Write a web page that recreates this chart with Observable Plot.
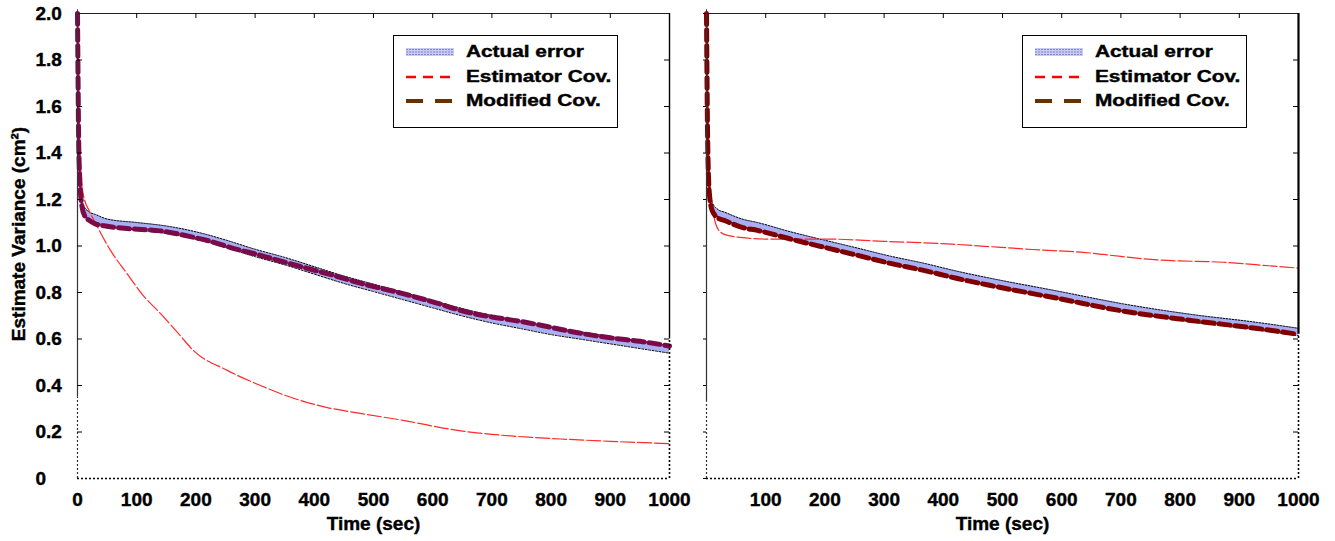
<!DOCTYPE html>
<html><head><meta charset="utf-8">
<script src="https://cdn.jsdelivr.net/npm/d3@7"></script>
<script src="https://cdn.jsdelivr.net/npm/@observablehq/plot@0.6"></script>
<style>
body{margin:0;background:#fff;width:1335px;height:541px;overflow:hidden;font-family:"Liberation Sans",Arial,sans-serif;}
#wrap{position:relative;width:1335px;height:541px;}
.panel{position:absolute;top:0;}
.panel text{font-weight:bold !important;font-size:19px !important;stroke:#000;stroke-width:0.4px;}
.legend{position:absolute;border:1.5px solid #000;background:#fff;box-sizing:border-box;width:225px;height:93px;}
.item{position:absolute;left:12px;height:20px;display:flex;align-items:center;}
.item svg{width:48px;height:12px;margin-right:12px;}
.item span{font-weight:bold;font-size:16px;display:inline-block;transform:scaleX(1.3);transform-origin:left center;white-space:nowrap;-webkit-text-stroke:0.4px #000;}
.ytitle{position:absolute;left:19px;top:234px;transform:translate(-50%,-50%) rotate(-90deg);font-weight:bold;font-size:19px;white-space:nowrap;-webkit-text-stroke:0.4px #000;}
</style></head><body><div id="wrap"></div>
<script>
// ---------- data ----------
const yTicks = [0, 0.2, 0.4, 0.6, 0.8, 1.0, 1.2, 1.4, 1.6, 1.8, 2.0];
const xTicksLeft = [0, 100, 200, 300, 400, 500, 600, 700, 800, 900, 1000];
const xTicksRight = [100, 200, 300, 400, 500, 600, 700, 800, 900, 1000];
const seriesNames = ["Actual error", "Estimator Cov.", "Modified Cov."];
const xTitle = "Time (sec)";
const yTitle = "Estimate Variance (cm²)";

// Left panel
const actualLeftT = [0, 2, 5, 10, 20, 30, 50, 100, 150, 200, 250, 300, 350, 400, 450, 500, 550, 600, 650, 700, 750, 800, 850, 900, 950, 1000];
const actualLeftV = [2.0, 1.5, 1.25, 1.16, 1.13, 1.12, 1.10, 1.085, 1.07, 1.045, 1.01, 0.97, 0.935, 0.895, 0.855, 0.82, 0.785, 0.75, 0.715, 0.685, 0.66, 0.635, 0.615, 0.595, 0.575, 0.555];
const modLeftT = [0, 1, 2, 4, 7, 12, 20, 30, 50, 84, 140, 200, 225, 260, 309, 350, 394, 430, 478, 550, 600, 659, 700, 750, 800, 838, 900, 950, 1000];
const modLeftV = [2.0, 1.7, 1.45, 1.28, 1.18, 1.13, 1.11, 1.095, 1.085, 1.075, 1.065, 1.035, 1.02, 0.992, 0.96, 0.93, 0.90, 0.875, 0.84, 0.795, 0.76, 0.715, 0.695, 0.675, 0.65, 0.63, 0.605, 0.59, 0.57];
const estLeftT = [0, 1, 3, 6, 10, 20, 30, 56, 84, 110, 140, 170, 196, 253, 309, 365, 422, 478, 550, 647, 700, 816, 900, 1000];
const estLeftV = [2.0, 1.75, 1.5, 1.30, 1.22, 1.15, 1.10, 0.98, 0.88, 0.79, 0.71, 0.625, 0.55, 0.465, 0.40, 0.345, 0.305, 0.28, 0.25, 0.205, 0.19, 0.17, 0.16, 0.15];

// Right panel
const actualRightT = [0, 2, 5, 10, 20, 30, 60, 86, 142, 198, 255, 311, 367, 424, 480, 593, 704, 818, 931, 1000];
const actualRightV = [2.0, 1.5, 1.25, 1.17, 1.14, 1.13, 1.10, 1.085, 1.045, 1.01, 0.975, 0.94, 0.91, 0.875, 0.845, 0.79, 0.735, 0.69, 0.655, 0.63];
const modRightT = [0, 2, 5, 10, 20, 30, 60, 86, 142, 198, 255, 311, 367, 424, 480, 593, 704, 818, 931, 1000];
const modRightV = [2.0, 1.45, 1.22, 1.15, 1.12, 1.11, 1.08, 1.067, 1.03, 0.995, 0.96, 0.925, 0.895, 0.86, 0.83, 0.775, 0.72, 0.68, 0.645, 0.62];
const estRightT = [0, 2, 5, 10, 15, 20, 30, 57, 100, 200, 300, 400, 492, 550, 648, 700, 762, 873, 950, 1000];
const estRightV = [2.0, 1.6, 1.3, 1.17, 1.10, 1.07, 1.05, 1.037, 1.03, 1.03, 1.02, 1.01, 0.995, 0.985, 0.97, 0.955, 0.94, 0.93, 0.915, 0.905];

const BAND = 0.016;
const zip = (t, v) => t.map((x, i) => ({t: x, v: v[i]}));

function panel({width, marginLeft, marginRight, actual, mod, est, modColor, xTicks, yLabels, leftSolidFrom, rightSolidFrom, rightWidth}) {
  const H = 541, mt = 13, mb = 63;
  const pw = width - marginLeft - marginRight;
  const ph = H - mt - mb;
  const marks = [
    Plot.areaY(actual, {x: "t", y1: d => d.v - BAND, y2: d => d.v + BAND, fill: "#a9aff2", curve: "monotone-x"}),
    Plot.lineY(actual, {x: "t", y: d => d.v + BAND, stroke: "#000", strokeWidth: 1, strokeDasharray: "1.5,1.5", curve: "monotone-x"}),
    Plot.lineY(actual, {x: "t", y: d => d.v - BAND, stroke: "#000", strokeWidth: 1, strokeDasharray: "2,1.5", curve: "monotone-x"}),
    Plot.lineY(est, {x: "t", y: "v", stroke: "#ff2a2a", strokeWidth: 1.2, strokeDasharray: "14,3", curve: "monotone-x"}),
    Plot.lineY(mod, {x: "t", y: "v", stroke: modColor, strokeWidth: 5, strokeDasharray: "11,5", curve: "monotone-x"}),
    // frame
    Plot.ruleY([2], {stroke: "#222", strokeWidth: 1.2}),
    Plot.ruleX([0], {y1: leftSolidFrom, y2: 2, stroke: "#333", strokeWidth: 1.2}),
    Plot.ruleX([0], {y1: 0, y2: leftSolidFrom, stroke: "#333", strokeWidth: 1.2, strokeDasharray: "2,2"}),
    Plot.ruleY([0], {stroke: "#000", strokeWidth: 1.6, strokeDasharray: "2,2"}),
    Plot.ruleX([1000], {y1: rightSolidFrom, y2: 2, stroke: "#000", strokeWidth: rightWidth}),
    Plot.ruleX([1000], {y1: 0, y2: rightSolidFrom, stroke: "#000", strokeWidth: 1.6, strokeDasharray: "2,2"}),
    // inward ticks
    Plot.tickX([100, 200, 300, 400, 500, 600, 700, 800, 900], {x: d => d, insetBottom: ph - 5, stroke: "#000"}),
    Plot.tickY(yTicks.slice(1, -1), {y: d => d, insetLeft: pw - 5, stroke: "#000"}),
    Plot.axisX({anchor: "bottom", ticks: xTicks, tickSize: 0, tickPadding: 14, label: null, tickFormat: d => String(d)}),
    Plot.text([xTitle], {frameAnchor: "bottom", dy: 45, fontSize: 19, fontWeight: "bold", lineAnchor: "middle"})
  ];
  if (yLabels) {
    marks.push(Plot.tickY(yTicks.slice(1, -1), {y: d => d, insetRight: pw - 5, stroke: "#000"}));
    marks.push(Plot.axisY({anchor: "left", ticks: yTicks, tickSize: 0, tickPadding: 42, textAnchor: "start", label: null,
      tickFormat: d => d === 0 ? "0" : d.toFixed(1)}));
  } else {
    marks.push(Plot.axisY({anchor: "left", ticks: yTicks, tickSize: 3, label: null, tickFormat: () => ""}));
  }
  return Plot.plot({
    width, height: H, marginTop: mt, marginBottom: mb, marginLeft, marginRight,
    x: {domain: [0, 1000], label: null},
    y: {domain: [0, 2], label: null},
    style: {fontFamily: '"Liberation Sans", Arial, sans-serif', fontSize: "19px", fontWeight: "bold", color: "#000", background: "transparent", overflow: "visible"},
    marks
  });
}

const wrap = document.getElementById("wrap");
const left = panel({width: 680, marginLeft: 77, marginRight: 11,
  actual: zip(actualLeftT, actualLeftV), mod: zip(modLeftT, modLeftV), est: zip(estLeftT, estLeftV),
  modColor: "#7a0a48", xTicks: xTicksLeft, yLabels: true, leftSolidFrom: 0.35, rightSolidFrom: 0.6, rightWidth: 1.4});
left.classList.add("panel"); left.style.left = "0px";
wrap.appendChild(left);
const right = panel({width: 655, marginLeft: 26, marginRight: 37,
  actual: zip(actualRightT, actualRightV), mod: zip(modRightT, modRightV), est: zip(estRightT, estRightV),
  modColor: "#800000", xTicks: xTicksRight, yLabels: false, leftSolidFrom: 0.33, rightSolidFrom: 0.62, rightWidth: 2.2});
right.classList.add("panel"); right.style.left = "680px";
wrap.appendChild(right);

const yt = document.createElement("div");
yt.className = "ytitle";
yt.textContent = yTitle;
wrap.appendChild(yt);

const swatches = [
  `<svg viewBox="0 0 48 12"><rect x="0" y="2" width="48" height="8" fill="#c9cbf2"/><line x1="0" x2="48" y1="3.5" y2="3.5" stroke="#7f86cc" stroke-dasharray="2,1"/><line x1="0" x2="48" y1="6" y2="6" stroke="#7f86cc" stroke-dasharray="2,1"/><line x1="0" x2="48" y1="8.5" y2="8.5" stroke="#7f86cc" stroke-dasharray="2,1"/></svg>`,
  `<svg viewBox="0 0 48 12"><line x1="0" x2="48" y1="6" y2="6" stroke="#ff0000" stroke-width="2.5" stroke-dasharray="10,7"/></svg>`,
  `<svg viewBox="0 0 48 12"><line x1="0" x2="48" y1="6" y2="6" stroke="#663300" stroke-width="4" stroke-dasharray="17,12"/></svg>`
];
for (const lx of [393, 1022]) {
  const box = document.createElement("div");
  box.className = "legend";
  box.style.left = lx + "px"; box.style.top = "35px";
  const rows = [16, 41, 65];
  seriesNames.forEach((name, i) => {
    const it = document.createElement("div");
    it.className = "item";
    it.style.top = (rows[i] - 10) + "px";
    it.innerHTML = swatches[i] + `<span>${name}</span>`;
    box.appendChild(it);
  });
  wrap.appendChild(box);
}
</script></body></html>
